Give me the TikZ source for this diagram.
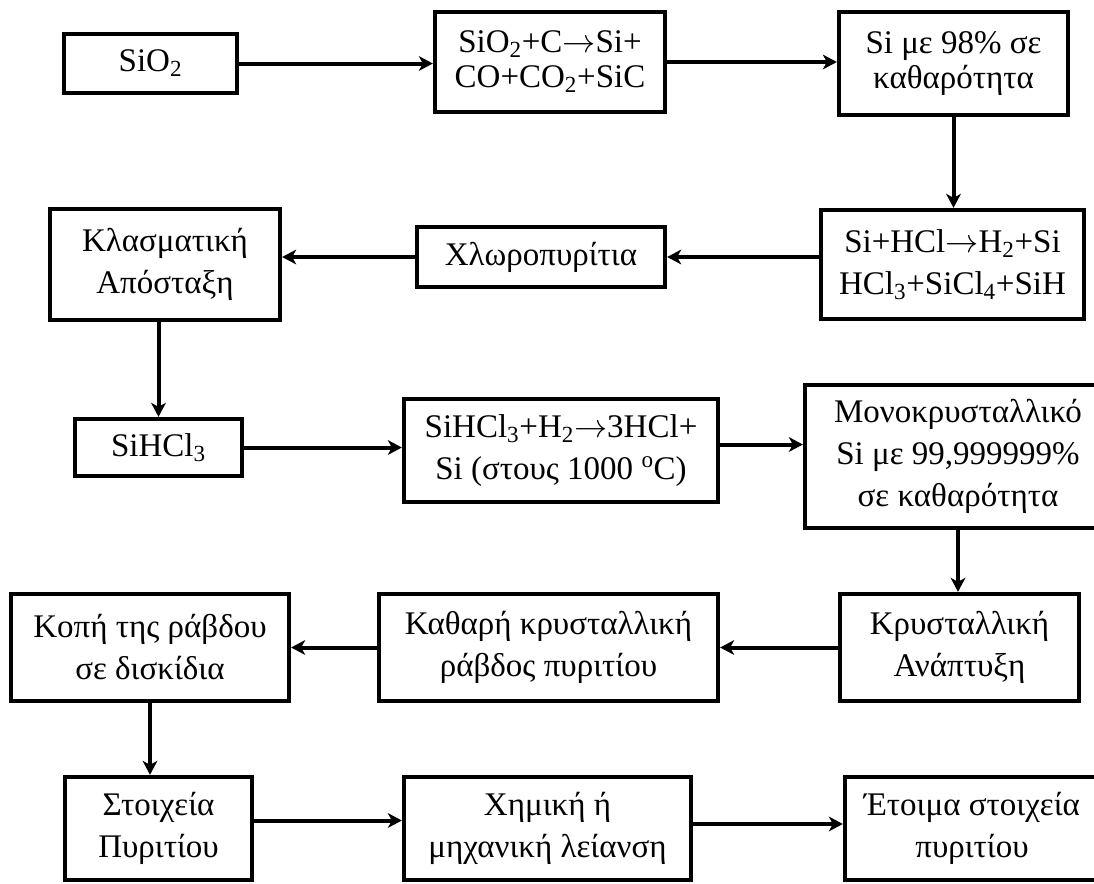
\documentclass[tikz,border=0pt]{standalone}
\usepackage{fontspec}
\setmainfont{Liberation Serif}
\usetikzlibrary{arrows.meta}

\tikzset{
  box/.style={draw,line width=3.2pt,inner sep=0pt,align=center,font=\fontsize{24.75}{31.5}\selectfont},
  boxtop/.style={box,font=\fontsize{24.75}{26.25}\selectfont},
  arr/.style={line width=3pt,-{Stealth[length=10.5pt,width=11pt,inset=3pt]}},
}

\begin{document}
\begin{tikzpicture}[x=0.75pt,y=-0.75pt]
\useasboundingbox (0,0) rectangle (1094,883);
% first row
\node[boxtop,minimum width=129.75pt,minimum height=44.25pt] (sio) at (150.5,63.5) {SiO\textsubscript{2}};
\node[boxtop,minimum width=172.5pt,minimum height=75pt] (carbo) at (550,62) {SiO\textsubscript{2}+C$\rightarrow$Si+\\CO+CO\textsubscript{2}+SiC};
\node[boxtop,minimum width=171.75pt,minimum height=77.25pt] (crude) at (953.5,63.5) {Si με 98\% σε\\καθαρότητα};
% second row
\node[box,minimum width=197.25pt,minimum height=81.75pt] (hcl) at (952.5,264.5) {Si+HCl$\rightarrow$H\textsubscript{2}+Si\\HCl\textsubscript{3}+SiCl\textsubscript{4}+SiH};
\node[box,minimum width=186pt,minimum height=45pt] (chloro) at (541,257) {Χλωροπυρίτια};
\node[box,minimum width=172.5pt,minimum height=83.25pt] (distil) at (165,264.5) {Κλασματική\\Απόσταξη};
% third row
\node[box,minimum width=125.25pt,minimum height=42.75pt] (trichl) at (158.5,447.5) {SiHCl\textsubscript{3}};
\node[box,minimum width=235.5pt,minimum height=77.25pt] (reduct) at (561,450.5) {SiHCl\textsubscript{3}+H\textsubscript{2}$\rightarrow$3HCl+\\Si (στους 1000 \textsuperscript{o}C)};
\node[box,minimum width=229.5pt,minimum height=107.25pt] (mono) at (958,456.5) {Μονοκρυσταλλικό\\Si με 99,999999\%\\σε καθαρότητα};
% fourth row
\node[box,minimum width=179.25pt,minimum height=80.25pt] (growth) at (959.5,647.5) {Κρυσταλλική\\Ανάπτυξη};
\node[box,minimum width=254.25pt,minimum height=80.25pt] (rod) at (548.5,647.5) {Καθαρή κρυσταλλική\\ράβδος πυριτίου};
\node[box,minimum width=208.5pt,minimum height=80.25pt] (cut) at (150,647.5) {Κοπή της ράβδου\\σε δισκίδια};
% fifth row
\node[box,minimum width=140.25pt,minimum height=77.25pt] (wafer) at (158.5,828.5) {Στοιχεία\\Πυριτίου};
\node[box,minimum width=215.25pt,minimum height=77.25pt] (polish) at (547.5,828.5) {Χημική ή\\μηχανική λείανση};
\node[box,minimum width=190.5pt,minimum height=77.25pt] (ready) at (972,828.5) {Έτοιμα στοιχεία\\πυριτίου};

\draw[arr] (sio.east) -- (sio.east -| carbo.west);
\draw[arr] (carbo.east) -- (carbo.east -| crude.west);
\draw[arr] (crude.south) -- (crude.south |- hcl.north);
\draw[arr] (chloro -| hcl.west) -- (chloro.east);
\draw[arr] (chloro.west) -- (chloro -| distil.east);
\draw[arr] (trichl.north |- distil.south) -- (trichl.north);
\draw[arr] (trichl.east) -- (trichl.east -| reduct.west);
\draw[arr] ([yshift=4.5pt]reduct.east) -- ([yshift=4.5pt]reduct.east -| mono.west);
\draw[arr] (mono.south) -- (mono.south |- growth.north);
\draw[arr] (growth.west) -- (growth.west -| rod.east);
\draw[arr] (rod.west) -- (rod.west -| cut.east);
\draw[arr] (cut.south) -- (cut.south |- wafer.north);
\draw[arr] ([yshift=6pt]wafer.east) -- ([yshift=6pt]wafer.east -| polish.west);
\draw[arr] ([yshift=3.4pt]polish.east) -- ([yshift=3.4pt]polish.east -| ready.west);
\end{tikzpicture}
\end{document}
